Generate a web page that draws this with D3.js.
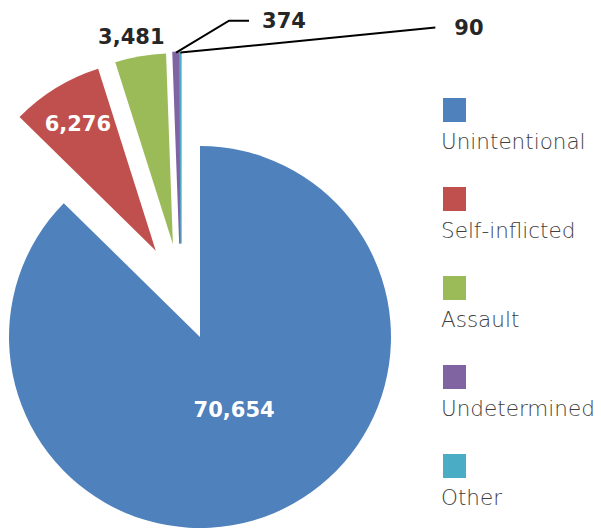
<!DOCTYPE html>
<html lang="en">
<head>
    <meta charset="UTF-8">
    <title>Injury deaths by intent</title>
    <script src="https://cdn.jsdelivr.net/npm/d3@7"></script>
    <style>
        body { margin: 0; background: #ffffff; }
        #canvas { width: 601px; height: 529px; }
        .num { font-family: "DejaVu Sans", sans-serif; font-weight: bold; font-size: 21px; }
        .legend-text { font-family: "DejaVu Sans", sans-serif; font-weight: 300; font-size: 21.5px; fill: #404040; }
    </style>
</head>
<body>
    <div id="canvas"></div>

    <script>

        const categories = ['Unintentional', 'Self-inflicted', 'Assault', 'Undetermined', 'Other'];
        const values = [70654, 6276, 3481, 374, 90];
        const valueLabels = ['70,654', '6,276', '3,481', '374', '90'];
        const colors = ['#4F81BD', '#C0504D', '#9BBB59', '#8064A2', '#4BACC6'];

        const width = 601;
        const height = 529;

        // pie layout
        const radius = 191;
        const explode = 48.6;
        const cx = 181.2;
        const cy = 292.2;

        const svg = d3.select('#canvas')
            .append('svg')
            .attr('width', width)
            .attr('height', height);

        const data = categories.map((c, i) => ({ name: c, value: values[i], label: valueLabels[i], color: colors[i] }));

        const pie = d3.pie()
            .sort(null)
            .value((d) => d.value)
            .startAngle(0)
            .endAngle(2 * Math.PI);

        const arc = d3.arc()
            .innerRadius(0)
            .outerRadius(radius);

        const arcs = pie(data);
        const mid = (a) => (a.startAngle + a.endAngle) / 2;

        // very thin slices get an outline in their own colour so they stay visible
        const outline = { 'Undetermined': 2, 'Other': 1.2 };

        const slices = svg.selectAll('g.slice')
            .data(arcs)
            .enter()
            .append('g')
            .attr('class', 'slice')
            .attr('transform', (a) => {
                const m = mid(a);
                return `translate(${cx + explode * Math.sin(m)}, ${cy - explode * Math.cos(m)})`;
            });

        slices.append('path')
            .attr('d', arc)
            .attr('fill', (a) => a.data.color)
            .attr('stroke', (a) => a.data.color)
            .attr('stroke-width', (a) => outline[a.data.name] || 0);

        // label placement: inside / outside / with a leader line
        const labelStyle = {
            'Unintentional': { r: 80, dAngle: -2.5, fill: '#ffffff' },
            'Self-inflicted': { r: 149, dAngle: 0, fill: '#ffffff' },
            'Assault': { r: 212, dAngle: -1.5, fill: '#262626' },
            'Undetermined': { leader: [[53, -32], [73, -32]], text: [86, -32], fill: '#262626' },
            'Other': { leader: [[255, -25]], text: [274, -25], fill: '#262626' }
        };

        slices.each(function(a) {
            const g = d3.select(this);
            const s = labelStyle[a.data.name];
            const m = mid(a);

            if(s.leader) {
                const x0 = radius * Math.sin(m);
                const y0 = -radius * Math.cos(m);
                const pts = [[x0, y0]].concat(s.leader.map((p) => [x0 + p[0], y0 + p[1]]));

                g.append('path')
                    .attr('d', d3.line()(pts))
                    .attr('fill', 'none')
                    .attr('stroke', '#000000')
                    .attr('stroke-width', 2);

                g.append('text')
                    .attr('class', 'num')
                    .attr('x', x0 + s.text[0])
                    .attr('y', y0 + s.text[1])
                    .attr('dy', '0.36em')
                    .attr('fill', s.fill)
                    .text(a.data.label);
            } else {
                const ang = m + s.dAngle * Math.PI / 180;
                g.append('text')
                    .attr('class', 'num')
                    .attr('x', s.r * Math.sin(ang))
                    .attr('y', -s.r * Math.cos(ang))
                    .attr('dy', '0.36em')
                    .attr('text-anchor', 'middle')
                    .attr('fill', s.fill)
                    .text(a.data.label);
            }
        });

        // legend
        const legendY = d3.scalePoint()
            .domain(categories)
            .range([98, 454]);

        const legend = svg.selectAll('g.legend')
            .data(data)
            .enter()
            .append('g')
            .attr('class', 'legend')
            .attr('transform', (d) => `translate(443, ${legendY(d.name)})`);

        legend.append('rect')
            .attr('width', 23)
            .attr('height', 24)
            .attr('fill', (d) => d.color);

        legend.append('text')
            .attr('class', 'legend-text')
            .attr('x', -2)
            .attr('y', 51)
            .text((d) => d.name);

    </script>
</body>
</html>
